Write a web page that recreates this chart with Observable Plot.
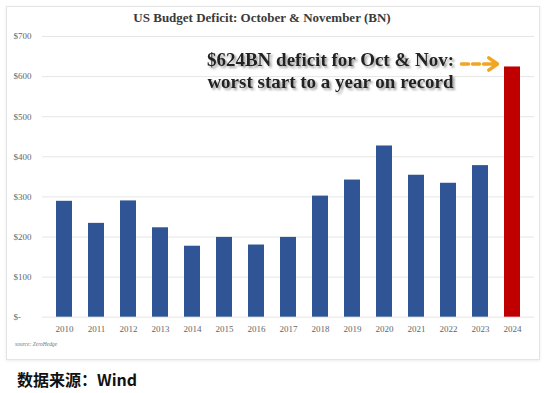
<!DOCTYPE html>
<html>
<head>
<meta charset="utf-8">
<script src="https://cdn.jsdelivr.net/npm/d3@7"></script>
<script src="https://cdn.jsdelivr.net/npm/@observablehq/plot@0.6"></script>
<style>
  html, body { margin: 0; padding: 0; background: #fff; width: 549px; height: 393px; overflow: hidden; position: relative; }
  #panel { position: absolute; left: 6px; top: 6px; width: 532px; height: 352px; border: 1px solid #e4e4e4; box-shadow: 0 1px 3px rgba(0,0,0,0.08); }
  #chart { position: absolute; left: 0; top: 0; }
  #title { position: absolute; left: 0; top: 11px; width: 524px; text-align: center; font: bold 13px "Liberation Serif", serif; color: #3a3a3a; line-height: 14px; }
  #source { position: absolute; left: 15px; top: 341px; font: italic 5.5px "Liberation Serif", serif; color: #777; }
  #caption { position: absolute; left: 17px; top: 369px; font: bold 16px "Noto Sans CJK SC", sans-serif; color: #111; line-height: 20px; }
</style>
</head>
<body>
<div id="panel"></div>
<div id="chart"></div>
<div id="title">US Budget Deficit: October &amp; November (BN)</div>
<div id="source">source: ZeroHedge</div>
<div id="caption">数据来源：Wind</div>
<script>
const years = ["2010","2011","2012","2013","2014","2015","2016","2017","2018","2019","2020","2021","2022","2023","2024"];
const deficits = [289, 234, 290, 223, 177, 199, 180, 199, 302, 342, 427, 354, 334, 378, 624];
const highlightYear = "2024";
const yTicks = [0, 100, 200, 300, 400, 500, 600, 700];
const annotationLines = ["$624BN deficit for Oct & Nov:", "worst start to a year on record"];

const data = years.map((year, i) => ({year, value: deficits[i], highlight: year === highlightYear}));
const note = [{year: highlightYear, value: deficits[years.indexOf(highlightYear)], label: annotationLines.join("\n")}];
const arrowData = [{from: "2023", to: highlightYear, value: deficits[years.indexOf(highlightYear)]}];

const orange = "#f0a623";
const chart = Plot.plot({
  width: 549,
  height: 362,
  marginLeft: 42,
  marginRight: 15,
  marginTop: 36,
  marginBottom: 45.3,
  style: {background: "transparent", fontFamily: "Liberation Serif, serif"},
  x: {domain: years, paddingInner: 0.49, paddingOuter: 0.245, label: null},
  y: {domain: [0, 700], label: null},
  marks: [
    Plot.gridY(yTicks, {stroke: "#e6e6e6", strokeOpacity: 1}),
    Plot.axisY(yTicks, {tickSize: 0, tickPadding: 29, textAnchor: "start", fontSize: 9, fill: "#666",
      tickFormat: d => d === 0 ? "$-" : "$" + d, label: null}),
    Plot.axisX({tickSize: 0, tickPadding: 8, fontSize: 9, fill: "#666", label: null}),
    Plot.barY(data, {x: "year", y: "value", fill: d => d.highlight ? "#c00000" : "#2f5597"}),
    Plot.arrow(arrowData, {x1: "from", x2: "to", y1: "value", y2: "value", dy: -3,
      insetStart: -19, insetEnd: 27, headLength: 0, stroke: orange, strokeWidth: 3.5, strokeDasharray: "7,4"}),
    Plot.arrow(arrowData, {x1: "from", x2: "to", y1: "value", y2: "value", dy: -3,
      insetStart: 6, insetEnd: 15, headLength: 9, headAngle: 70, stroke: orange, strokeWidth: 3.5}),
    Plot.text(note, {x: "year", y: "value", text: "label", textAnchor: "middle", lineAnchor: "bottom",
      lineHeight: 1.16, dx: -182, dy: 20.7, fontSize: 19, fontWeight: "bold", fill: "#222",
      fontFamily: "Liberation Serif, serif"})
  ]
});
// soft drop shadow behind the annotation text
const svg = d3.select(chart);
const defs = svg.insert("defs", ":first-child");
const f = defs.append("filter").attr("id", "noteShadow").attr("x", "-10%").attr("y", "-30%").attr("width", "120%").attr("height", "160%");
f.append("feDropShadow").attr("dx", 2).attr("dy", 2).attr("stdDeviation", 1.3).attr("flood-color", "#777").attr("flood-opacity", 0.7);
svg.selectAll('g[aria-label="text"]').attr("filter", "url(#noteShadow)");
document.getElementById("chart").appendChild(chart);
</script>
</body>
</html>
